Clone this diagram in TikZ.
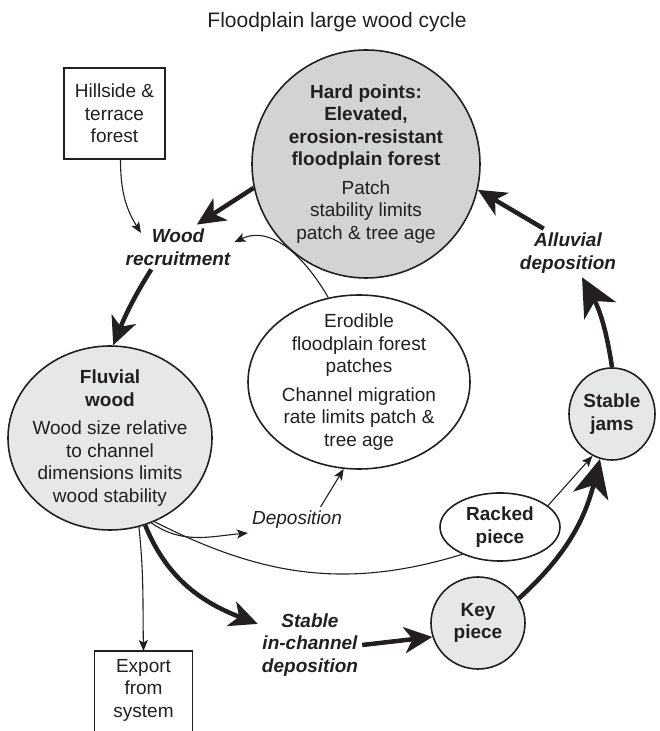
\documentclass[tikz,border=0pt]{standalone}
\usepackage{fontspec}
\setmainfont{Liberation Sans}
\usepackage{xcolor}
\usetikzlibrary{shapes.geometric, arrows.meta}
\definecolor{InkDark}{HTML}{231F20}
\definecolor{HardGray}{HTML}{D1D3D4}
\definecolor{WoodGray}{HTML}{E6E7E8}
\newcommand{\bodysize}{\fontsize{19}{22.5}\selectfont}

\begin{document}
\begin{tikzpicture}[
    x=1pt, y=1pt,
    every node/.style={text=InkDark, font=\bodysize},
    txt/.style={align=center, inner sep=4pt},
    box/.style={rectangle, draw=InkDark, line width=1.3pt, align=center, inner sep=4pt},
    pool/.style={ellipse, draw=InkDark, line width=1.6pt, align=center, inner sep=-10pt},
    feed/.style={draw=InkDark, line width=1.1pt, -{Stealth[length=11pt, width=9pt, inset=2.5pt]}},
    flow/.style={draw=InkDark, line width=4.5pt, -{Stealth[length=28pt, width=26pt, inset=8pt]}},
    bigflow/.style={draw=InkDark, line width=4.5pt, -{Stealth[length=38pt, width=36pt, inset=11pt]}}
  ]
    \useasboundingbox (0,0) rectangle (660,731);

    %% Title
    \node[font=\fontsize{21}{25}\selectfont] (title) at (337,709) {Floodplain large wood cycle};

    %% Forest sources
    \node[box, minimum width=101pt, minimum height=91pt] (hill) at (114.5,617.5) {Hillside \&\\terrace\\forest};
    \node[pool, fill=HardGray, minimum width=228pt, minimum height=228pt] (hard) at (366,567)
      {\textbf{Hard points:}\\\textbf{Elevated,}\\\textbf{erosion-resistant}\\\textbf{floodplain forest}\\[6pt]Patch\\stability limits\\patch \& tree age};
    \node[pool, fill=white, minimum width=222pt, minimum height=174pt] (erod) at (359,349)
      {Erodible\\floodplain forest\\patches\\[6pt]Channel migration\\rate limits patch \&\\tree age};

    %% Wood in the channel
    \node[pool, fill=WoodGray, minimum width=204pt, minimum height=184pt] (fluv) at (110,293)
      {\textbf{Fluvial}\\\textbf{wood}\\[6pt]Wood size relative\\to channel\\dimensions limits\\wood stability};
    \node[pool, fill=WoodGray, minimum width=86pt, minimum height=92pt] (jams) at (612,317) {\textbf{Stable}\\\textbf{jams}};
    \node[pool, fill=white, minimum width=120pt, minimum height=68pt] (racked) at (500,204) {\textbf{Racked}\\\textbf{piece}};
    \node[pool, fill=WoodGray, minimum width=94pt, minimum height=92pt] (key) at (478,108) {\textbf{Key}\\\textbf{piece}};

    %% Process labels
    \node[txt, font=\bodysize\bfseries\itshape] (wood) at (178,484) {Wood\\recruitment};
    \node[txt, font=\bodysize\bfseries\itshape] (alluv) at (568,478) {Alluvial\\deposition};
    \node[txt, font=\bodysize\bfseries\itshape] (stab) at (310,86) {Stable\\in-channel\\deposition};
    \node[txt, font=\bodysize\itshape] (depos) at (297,211) {Deposition};

    %% Export
    \node[txt, anchor=north, minimum width=97pt, inner ysep=8pt] (export) at (143.5,80) {Export\\from\\system};
    \draw[InkDark, line width=1.3pt] (export.north west) rectangle ([yshift=-20pt]export.south east);

    %% Recruitment
    \draw[flow] (hard.192) -- (wood.50);
    \draw[feed] ([xshift=6pt]hill.south) to[out=-90, in=122] ([shift={(-37pt,14pt)}]wood.center);
    \draw[feed] (erod.110) to[out=120, in=25] (wood.5);
    \draw[flow] (wood.220) to[out=-122, in=68] (fluv.88);

    %% Fates of fluvial wood
    \draw[feed] (fluv.-72) to[out=-84, in=91] (export.north);
    \draw[feed] (fluv.-64) to[out=-35, in=185] (depos.south west);
    \draw[feed] (depos.29) -- (erod.-100);
    \draw[InkDark, line width=1.1pt] (fluv.-62) to[out=-27, in=197] (racked.216);
    \draw[feed] (racked.24) -- (jams.245);
    \draw[flow] (fluv.-68) to[out=-68, in=159] (stab.158);
    \draw[flow] (stab.east) -- (key.197);
    \draw[bigflow] (key.31) to[out=42, in=-104] (jams.255);
    \draw[bigflow] (jams.north) to[bend right=10] (alluv.-60);
    \draw[flow] (alluv.135) -- (hard.-13);
  \end{tikzpicture}
\end{document}
